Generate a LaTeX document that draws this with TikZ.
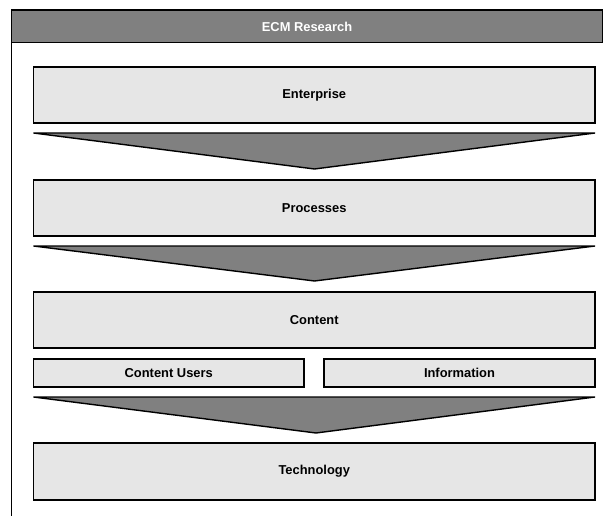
\documentclass[tikz,border=0pt]{standalone}
\usepackage{fontspec}
\setmainfont{Liberation Sans}
\definecolor{boxgray}{HTML}{E6E6E6}
\definecolor{darkgray}{HTML}{808080}
\begin{document}
\begin{tikzpicture}[x=1pt,y=-1pt,
  lw/.style={line width=1.4pt},
  layerbox/.style={lw, draw=black, fill=boxgray, anchor=north west, inner sep=0pt, outer sep=0pt,
    font=\fontsize{12.9}{14}\selectfont\bfseries, text=black},
  header/.style={lw, draw=black, fill=darkgray, anchor=north west, inner sep=0pt, outer sep=0pt,
    font=\fontsize{12.9}{14}\selectfont\bfseries, text=white},
  funnel/.style={lw, draw=black, fill=darkgray, line join=miter}]
\useasboundingbox (0,0) rectangle (603,516);
% frame
\node[header, minimum width=591pt, minimum height=32.5pt] (hdr) at (11.5,10.2) {ECM Research};
\coordinate (frameend) at (11.5,517);
\draw[lw] (hdr.south west) -- (frameend);
% layers
\node[layerbox, minimum width=561.5pt, minimum height=56pt] (ent) at (33.5,67) {Enterprise};
\node[layerbox, minimum width=561.5pt, minimum height=56pt] (proc) at (33.5,180) {Processes};
\node[layerbox, minimum width=561.5pt, minimum height=56pt] (cont) at (33.5,292) {Content};
\node[layerbox, minimum width=270.5pt, minimum height=28pt] (users) at (33.5,359) {Content Users};
\node[layerbox, minimum width=271pt, minimum height=28pt] (info) at (324,359) {Information};
\node[layerbox, minimum width=561.5pt, minimum height=57pt] (tech) at (33.5,443) {Technology};
% funnels
\coordinate (t1) at (314.5,169);
\coordinate (t2) at (314.5,281);
\coordinate (t3) at (316,433);
\draw[funnel] ([yshift=-10pt]ent.south west) -- ([yshift=-10pt]ent.south east) -- (t1) -- cycle;
\draw[funnel] ([yshift=-10pt]proc.south west) -- ([yshift=-10pt]proc.south east) -- (t2) -- cycle;
\draw[funnel] ([yshift=-10pt]users.south west) -- ([yshift=-10pt]info.south east) -- (t3) -- cycle;
\end{tikzpicture}
\end{document}
